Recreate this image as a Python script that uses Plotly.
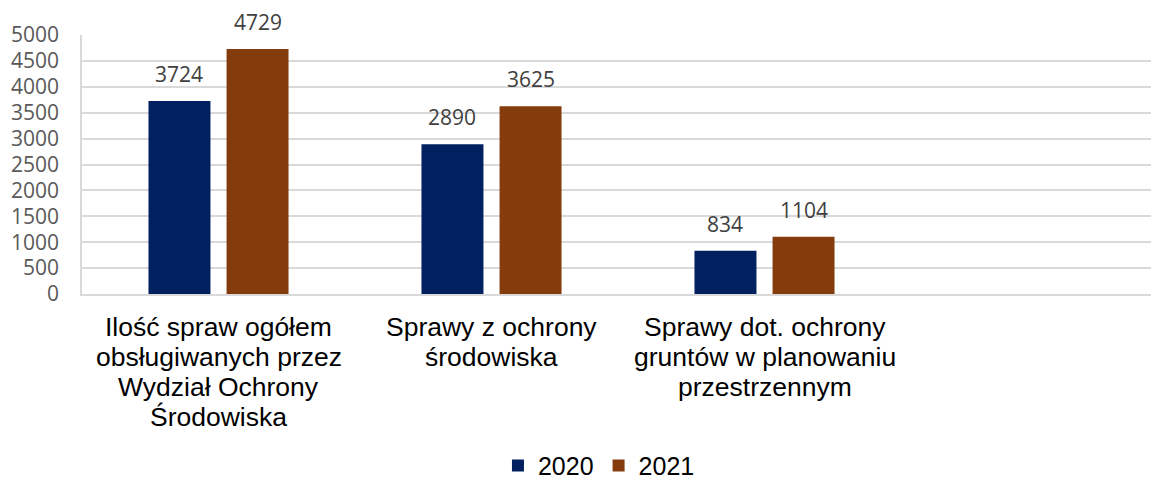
import plotly.graph_objects as go

categories = [
    "Ilość spraw ogółem<br>obsługiwanych przez<br>Wydział Ochrony<br>Środowiska",
    "Sprawy z ochrony<br>środowiska",
    "Sprawy dot. ochrony<br>gruntów w planowaniu<br>przestrzennym",
]
series_names = ["2020", "2021"]
values_2020 = [3724, 2890, 834]
values_2021 = [4729, 3625, 1104]
y_ticks = [0, 500, 1000, 1500, 2000, 2500, 3000, 3500, 4000, 4500, 5000]

colors = ["#002060", "#843C0C"]
bar_w = 0.227
offsets = [-0.2565, 0.0295]

xs = list(range(len(categories)))
fig = go.Figure()
annotations = []
for name, vals, col, off in zip(series_names, [values_2020, values_2021], colors, offsets):
    fig.add_trace(go.Bar(
        x=xs, y=vals, name=name, marker=dict(color=col, line=dict(width=0)),
        width=bar_w, offset=off,
    ))
    for x, v in zip(xs, vals):
        annotations.append(dict(
            x=x + off + bar_w / 2, y=v, xref="x", yref="y", text=str(v),
            showarrow=False, yanchor="bottom", yshift=11,
            font=dict(family="Open Sans", size=21, color="#404040"),
        ))

# category labels, one annotation per line for tight line spacing
line_gap = 30
for x, label in zip(xs, categories):
    for i, line in enumerate(label.split("<br>")):
        annotations.append(dict(
            x=x, y=0, xref="x", yref="y", text=line, showarrow=False,
            yanchor="middle", yshift=-33 - i * line_gap,
            font=dict(family="Liberation Sans, Arial", size=26.5, color="#000000"),
        ))

fig.update_layout(
    width=1151, height=473,
    margin=dict(l=74, r=0, t=27, b=187),
    paper_bgcolor="white", plot_bgcolor="white",
    showlegend=True,
    legend=dict(orientation="h", x=0.48, xanchor="center",
                yref="container", y=0.032, yanchor="middle",
                font=dict(family="Liberation Sans, Arial", size=25, color="#000000"),
                itemwidth=30, traceorder="normal"),
    annotations=annotations,
    xaxis=dict(
        range=[-0.5, 3.445], tickvals=xs, showticklabels=False,
        showgrid=False, showline=True, linecolor="#D9D9D9", linewidth=1.5,
        ticks="", zeroline=False, automargin=False,
    ),
    yaxis=dict(
        range=[0, 5000], tickvals=y_ticks, ticktext=[str(t) for t in y_ticks],
        showgrid=True, gridcolor="#D9D9D9", gridwidth=1.5,
        showline=True, linecolor="#D9D9D9", linewidth=1.5,
        zeroline=False, ticks="", ticklabelstandoff=17, automargin=False,
        tickfont=dict(family="Open Sans", size=21, color="#595959"),
    ),
)

fig.write_html("out.html")
